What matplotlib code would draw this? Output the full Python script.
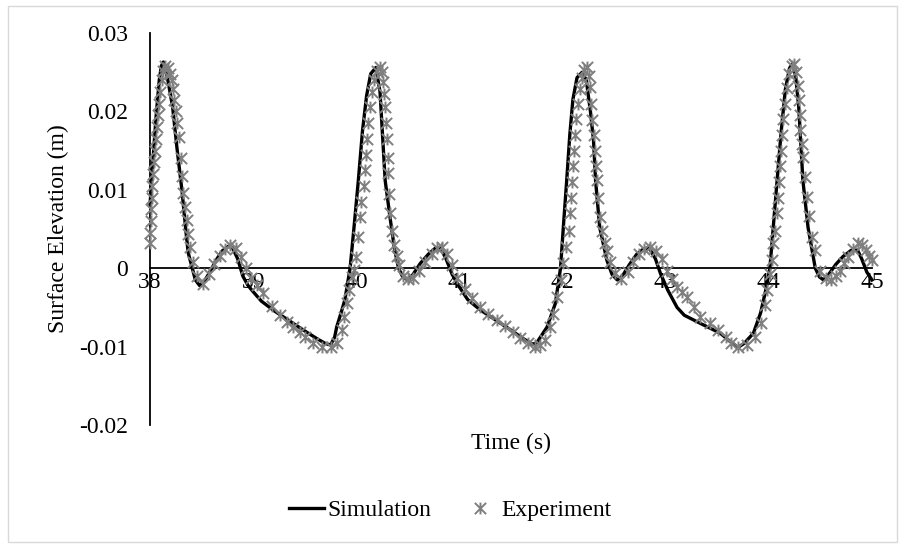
import matplotlib
matplotlib.use("Agg")
import matplotlib.pyplot as plt
from matplotlib.path import Path
from matplotlib.patches import Rectangle

# ---- simulated free-surface elevation ----
sim_t = [
    38.00, 38.03, 38.06, 38.09, 38.11, 38.13, 38.15, 38.18, 38.22, 38.26,
    38.31, 38.35, 38.37, 38.41, 38.44, 38.48, 38.52, 38.58, 38.64, 38.70,
    38.76, 38.80, 38.85, 38.90, 38.95, 39.00, 39.08, 39.20, 39.35, 39.50,
    39.62, 39.70, 39.75, 39.79, 39.81, 39.85, 39.89, 39.94, 39.98, 40.02,
    40.06, 40.10, 40.14, 40.19, 40.23, 40.28, 40.33, 40.37, 40.41, 40.45,
    40.50, 40.55, 40.62, 40.70, 40.77, 40.82, 40.87, 40.93, 41.00, 41.08,
    41.20, 41.35, 41.50, 41.62, 41.71, 41.75, 41.80, 41.85, 41.93, 41.98,
    42.01, 42.04, 42.07, 42.10, 42.14, 42.19, 42.23, 42.27, 42.30, 42.32,
    42.36, 42.43, 42.48, 42.53, 42.58, 42.65, 42.72, 42.79, 42.84, 42.90,
    42.95, 43.02, 43.11, 43.18, 43.33, 43.53, 43.62, 43.70, 43.76, 43.85,
    43.92, 43.97, 44.01, 44.04, 44.08, 44.12, 44.16, 44.20, 44.23, 44.26,
    44.29, 44.33, 44.38, 44.45, 44.49, 44.53, 44.58, 44.65, 44.72, 44.80,
    44.86, 44.90, 44.95, 45.00,
]
sim_eta = [
    0.0080, 0.0140, 0.0195, 0.0240, 0.0258, 0.0263, 0.0256, 0.0235, 0.0205, 0.0155,
    0.0099, 0.0045, 0.0020, 0.0000, -0.0015, -0.0022, -0.0018, -0.0005, 0.0010, 0.0022,
    0.0028, 0.0026, 0.0012, -0.0010, -0.0022, -0.0030, -0.0042, -0.0054, -0.0067, -0.0080,
    -0.0090, -0.0096, -0.0098, -0.0088, -0.0075, -0.0058, -0.0040, 0.0000, 0.0055, 0.0112,
    0.0175, 0.0220, 0.0248, 0.0256, 0.0225, 0.0112, 0.0062, 0.0025, 0.0000, -0.0011,
    -0.0015, -0.0008, 0.0006, 0.0018, 0.0026, 0.0025, 0.0012, -0.0008, -0.0024, -0.0040,
    -0.0053, -0.0066, -0.0079, -0.0090, -0.0097, -0.0095, -0.0085, -0.0075, -0.0045, 0.0000,
    0.0057, 0.0112, 0.0170, 0.0215, 0.0243, 0.0250, 0.0240, 0.0200, 0.0163, 0.0112,
    0.0052, 0.0010, -0.0008, -0.0015, -0.0010, 0.0005, 0.0018, 0.0025, 0.0026, 0.0012,
    -0.0007, -0.0028, -0.0050, -0.0060, -0.0070, -0.0083, -0.0093, -0.0101, -0.0096, -0.0083,
    -0.0057, -0.0028, 0.0000, 0.0048, 0.0112, 0.0175, 0.0228, 0.0255, 0.0261, 0.0245,
    0.0205, 0.0112, 0.0052, 0.0000, -0.0011, -0.0015, -0.0008, 0.0005, 0.0015, 0.0023,
    0.0023, 0.0012, -0.0005, -0.0015,
]

# ---- measured free-surface elevation ----
exp_t = [
    38.00, 38.00, 38.005, 38.01, 38.015, 38.02, 38.03, 38.04, 38.05, 38.06,
    38.07, 38.08, 38.09, 38.10, 38.115, 38.13, 38.15, 38.17, 38.19, 38.21,
    38.22, 38.23, 38.25, 38.26, 38.28, 38.30, 38.31, 38.32, 38.34, 38.36,
    38.37, 38.39, 38.42, 38.46, 38.51, 38.57, 38.62, 38.68, 38.73, 38.78,
    38.83, 38.88, 38.93, 38.98, 39.04, 39.10, 39.18, 39.26, 39.33, 39.39,
    39.45, 39.50, 39.58, 39.67, 39.75, 39.81, 39.86, 39.88, 39.91, 39.93,
    39.96, 39.98, 40.00, 40.02, 40.04, 40.05, 40.07, 40.08, 40.09, 40.10,
    40.11, 40.13, 40.15, 40.17, 40.20, 40.23, 40.25, 40.26, 40.27, 40.28,
    40.29, 40.30, 40.31, 40.31, 40.32, 40.33, 40.35, 40.37, 40.39, 40.41,
    40.45, 40.50, 40.55, 40.61, 40.67, 40.73, 40.78, 40.83, 40.88, 40.93,
    40.98, 41.05, 41.12, 41.20, 41.28, 41.36, 41.44, 41.52, 41.59, 41.66,
    41.73, 41.78, 41.83, 41.88, 41.91, 41.95, 41.98, 42.00, 42.03, 42.06,
    42.07, 42.08, 42.09, 42.10, 42.11, 42.12, 42.13, 42.15, 42.17, 42.19,
    42.21, 42.24, 42.26, 42.27, 42.28, 42.29, 42.30, 42.31, 42.32, 42.33,
    42.34, 42.36, 42.38, 42.41, 42.43, 42.46, 42.51, 42.57, 42.63, 42.68,
    42.74, 42.79, 42.85, 42.91, 42.96, 43.01, 43.06, 43.11, 43.16, 43.21,
    43.27, 43.33, 43.43, 43.51, 43.58, 43.63, 43.70, 43.79, 43.87, 43.92,
    43.96, 43.98, 44.01, 44.03, 44.04, 44.06, 44.08, 44.09, 44.10, 44.11,
    44.12, 44.13, 44.14, 44.16, 44.18, 44.20, 44.22, 44.24, 44.26, 44.28,
    44.29, 44.30, 44.30, 44.32, 44.33, 44.35, 44.37, 44.39, 44.42, 44.45,
    44.50, 44.55, 44.60, 44.65, 44.69, 44.73, 44.77, 44.82, 44.86, 44.90,
    44.94, 44.97, 45.00,
]
exp_eta = [
    0.0032, 0.0045, 0.0060, 0.0075, 0.0090, 0.0105, 0.0120, 0.0135, 0.0150, 0.0165,
    0.0180, 0.0195, 0.0210, 0.0225, 0.0240, 0.0252, 0.0258, 0.0255, 0.0248, 0.0240,
    0.0228, 0.0215, 0.0200, 0.0185, 0.0167, 0.0140, 0.0118, 0.0096, 0.0078, 0.0061,
    0.0044, 0.0027, 0.0008, -0.0010, -0.0020, -0.0008, 0.0005, 0.0015, 0.0025, 0.0030,
    0.0026, 0.0014, 0.0000, -0.0012, -0.0022, -0.0032, -0.0048, -0.0060, -0.0068, -0.0075,
    -0.0082, -0.0088, -0.0095, -0.0100, -0.0101, -0.0096, -0.0079, -0.0062, -0.0045, -0.0028,
    -0.0011, -0.0002, 0.0014, 0.0040, 0.0065, 0.0085, 0.0105, 0.0125, 0.0145, 0.0165,
    0.0185, 0.0205, 0.0225, 0.0240, 0.0252, 0.0256, 0.0250, 0.0238, 0.0222, 0.0205,
    0.0185, 0.0165, 0.0140, 0.0121, 0.0095, 0.0070, 0.0048, 0.0030, 0.0016, 0.0004,
    -0.0010, -0.0014, -0.0012, -0.0004, 0.0008, 0.0018, 0.0026, 0.0027, 0.0018, 0.0004,
    -0.0012, -0.0026, -0.0038, -0.0050, -0.0058, -0.0066, -0.0074, -0.0082, -0.0089, -0.0096,
    -0.0100, -0.0098, -0.0092, -0.0075, -0.0058, -0.0037, -0.0015, 0.0006, 0.0027, 0.0048,
    0.0070, 0.0090, 0.0110, 0.0130, 0.0150, 0.0170, 0.0190, 0.0210, 0.0228, 0.0243,
    0.0253, 0.0256, 0.0245, 0.0231, 0.0210, 0.0189, 0.0170, 0.0150, 0.0130, 0.0112,
    0.0090, 0.0065, 0.0048, 0.0032, 0.0022, 0.0008, -0.0006, -0.0014, -0.0005, 0.0008,
    0.0018, 0.0024, 0.0027, 0.0022, 0.0012, -0.0003, -0.0014, -0.0024, -0.0030, -0.0037,
    -0.0050, -0.0062, -0.0070, -0.0079, -0.0088, -0.0096, -0.0101, -0.0098, -0.0088, -0.0070,
    -0.0047, -0.0028, -0.0007, 0.0010, 0.0032, 0.0048, 0.0070, 0.0090, 0.0110, 0.0130,
    0.0150, 0.0170, 0.0190, 0.0210, 0.0230, 0.0248, 0.0258, 0.0261, 0.0250, 0.0232,
    0.0214, 0.0195, 0.0176, 0.0158, 0.0142, 0.0116, 0.0091, 0.0066, 0.0040, 0.0023,
    -0.0003, -0.0012, -0.0015, -0.0010, -0.0003, 0.0006, 0.0014, 0.0025, 0.0032, 0.0030,
    0.0023, 0.0015, 0.0010,
]

x_ticks = [38, 39, 40, 41, 42, 43, 44, 45]
x_tick_labels = ["38", "39", "40", "41", "42", "43", "44", "45"]
y_ticks = [-0.02, -0.01, 0.0, 0.01, 0.02, 0.03]
y_tick_labels = ["-0.02", "-0.01", "0", "0.01", "0.02", "0.03"]

plt.rcParams["font.family"] = ["Liberation Serif", "DejaVu Serif"]
plt.rcParams["font.size"] = 17

W, H = 905, 546
fig = plt.figure(figsize=(W / 100, H / 100), dpi=100)
ax = fig.add_axes([150 / W, 1 - 425 / H, (872 - 150) / W, (425 - 33) / H])

# asterisk-like marker: a cross with a vertical stroke
star = Path(
    [(-1, -1), (1, 1), (-1, 1), (1, -1), (0, -1.05), (0, 1.05)],
    [Path.MOVETO, Path.LINETO, Path.MOVETO, Path.LINETO, Path.MOVETO, Path.LINETO],
)

ax.plot(sim_t, sim_eta, color="black", lw=2.4, solid_joinstyle="round",
        label="Simulation", clip_on=False, zorder=2)
ax.plot(exp_t, exp_eta, linestyle="none", marker=star, markersize=8.5,
        markeredgewidth=1.4, markeredgecolor="#7f7f7f", markerfacecolor="none",
        label="Experiment", clip_on=False, zorder=3)

ax.set_xlim(38, 45)
ax.set_ylim(-0.02, 0.03)
ax.set_xticks(x_ticks)
ax.set_xticklabels(x_tick_labels)
ax.set_yticks(y_ticks)
ax.set_yticklabels(y_tick_labels)
ax.set_axisbelow(True)

for side in ("top", "right"):
    ax.spines[side].set_visible(False)
ax.spines["bottom"].set_position(("data", 0))
ax.spines["left"].set_linewidth(1.3)
ax.spines["bottom"].set_linewidth(1.3)
ax.tick_params(axis="x", length=0, pad=3)
ax.tick_params(axis="y", length=0, pad=16)

ax.set_ylabel("Surface Elevation (m)", labelpad=7)
fig.text(511 / W, 1 - 443 / H, "Time (s)", ha="center", va="center")

fig.legend(loc="center", bbox_to_anchor=(450 / W, 1 - 510 / H), ncol=2,
           frameon=False, handlelength=1.5, handletextpad=0.15, columnspacing=1.3)

# light chart-area border
fig.add_artist(Rectangle((8 / W, 4 / H), (897 - 8) / W, (540 - 4) / H,
                         transform=fig.transFigure, fill=False,
                         edgecolor="#d9d9d9", lw=1.0))

fig.savefig("out.png", dpi=100)
